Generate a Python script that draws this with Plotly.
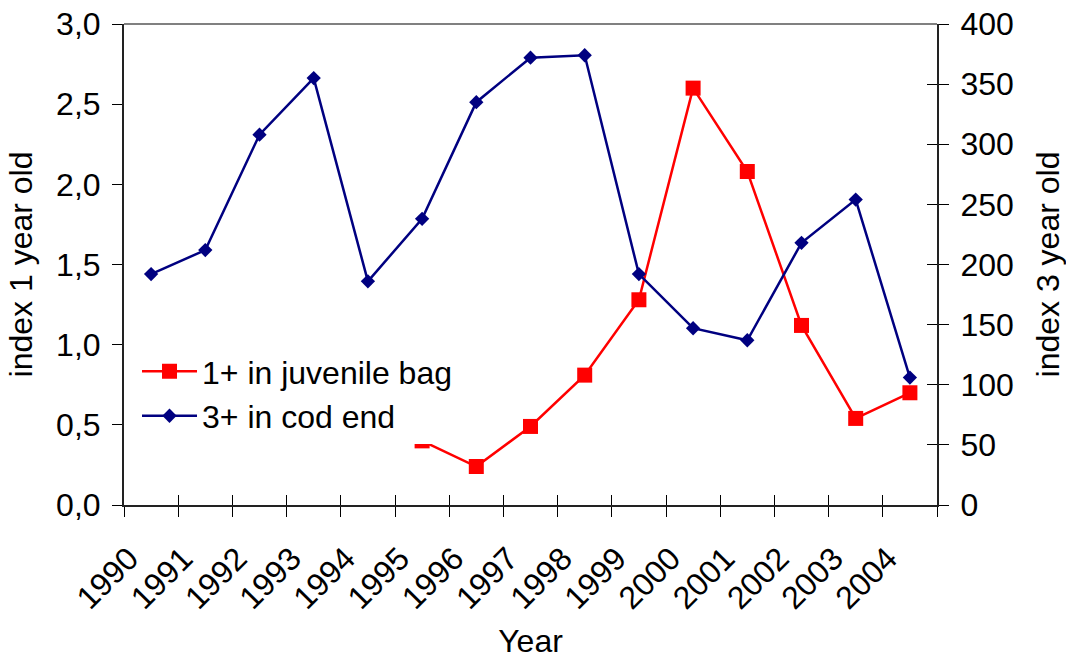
import plotly.graph_objects as go

years = [str(y) for y in range(1990, 2005)]
juvenile_1plus = [None, None, None, None, None, 0.40, 0.24, 0.49, 0.81, 1.28, 2.60, 2.08, 1.12, 0.54, 0.70]
codend_3plus = [192, 212, 308, 355, 186, 238, 335, 372, 374, 192, 147, 137, 218, 254, 106]
left_ticks = [0, 0.5, 1.0, 1.5, 2.0, 2.5, 3.0]
right_ticks = [0, 50, 100, 150, 200, 250, 300, 350, 400]

FONT = "Liberation Sans, Arial, sans-serif"
FS = 32

fig = go.Figure()
fig.add_trace(go.Scatter(
    x=years, y=juvenile_1plus, name="1+ in juvenile bag", mode="lines+markers",
    legendgroup="a",
    line=dict(color="#FF0000", width=2.5),
    marker=dict(symbol="square", size=15, color="#FF0000"),
    xaxis="x", yaxis="y"))
fig.add_trace(go.Scatter(
    x=years, y=codend_3plus, name="3+ in cod end", mode="lines+markers",
    legendgroup="b",
    line=dict(color="#000080", width=2.5),
    marker=dict(symbol="diamond", size=11, color="#000080"),
    xaxis="x", yaxis="y2"))
# invisible helper trace for the inner half of crossing tick marks
fig.add_trace(go.Scatter(
    x=years, y=codend_3plus, mode="none", showlegend=False, hoverinfo="skip",
    xaxis="x2", yaxis="y3"))

axis_common = dict(showgrid=False, zeroline=False, automargin=False,
                   tickfont=dict(size=FS, color="black"),
                   tickcolor="black", tickwidth=1.2, ticklabeloverflow="allow")

fig.update_layout(
    width=1066, height=659,
    margin=dict(l=124, r=129, t=24, b=154, autoexpand=False),
    paper_bgcolor="white", plot_bgcolor="white",
    font=dict(family=FONT, size=FS, color="black"),
    separators=",.",
    xaxis=dict(type="category", categoryorder="array", categoryarray=years,
               range=[-0.5, 14.5], showline=True, linecolor="#222", linewidth=2,
               ticks="outside", ticklen=10, tickson="boundaries", tickangle=-45,
               ticklabelshift=-22, ticklabelstandoff=20,
               title=dict(text="Year", font=dict(size=FS), standoff=18),
               **axis_common),
    xaxis2=dict(type="category", categoryorder="array", categoryarray=years,
                range=[-0.5, 14.5], overlaying="x", anchor="y", side="bottom",
                ticks="inside", ticklen=10, tickson="boundaries", automargin=False,
                showticklabels=False, showline=False, showgrid=False, zeroline=False,
                tickcolor="black", tickwidth=1.2),
    yaxis=dict(range=[0, 3], tickvals=left_ticks, tickformat=".1f",
               showline=True, linecolor="#222", linewidth=2,
               ticks="outside", ticklen=10, ticklabelstandoff=5,
               title=dict(text="index 1 year old", font=dict(size=FS), standoff=14),
               **axis_common),
    yaxis2=dict(range=[0, 400], tickvals=right_ticks, overlaying="y", side="right",
                anchor="x", showline=True, linecolor="#222", linewidth=2,
                ticks="outside", ticklen=10, ticklabelstandoff=5,
                title=dict(text="index 3 year old", font=dict(size=FS), standoff=24),
                **axis_common),
    yaxis3=dict(range=[0, 400], tickvals=right_ticks, overlaying="y", side="right",
                anchor="x2", ticks="inside", ticklen=10, showticklabels=False,
                showline=False, showgrid=False, zeroline=False, automargin=False,
                tickcolor="black", tickwidth=1.2),
    legend=dict(x=0.016, y=0.335, xanchor="left", yanchor="top",
                bgcolor="white", borderwidth=0, font=dict(size=FS),
                itemwidth=55, tracegroupgap=0, traceorder="grouped"),
    shapes=[dict(type="line", xref="paper", yref="paper", x0=0, x1=1, y0=1, y1=1,
                 line=dict(color="#808080", width=2))],
    showlegend=True,
)

fig.write_html("out.html", config={"displayModeBar": False},
               post_script="document.body.style.margin='0';")
